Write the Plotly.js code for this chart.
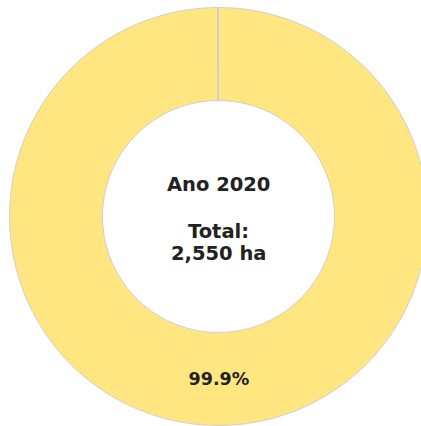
<!DOCTYPE html>
<html>
<head>
<meta charset="utf-8">
<script src="https://cdn.plot.ly/plotly-3.0.1.min.js"></script>
<style>
html, body { margin: 0; padding: 0; overflow: hidden; background: #fff; }
#chart { width: 437px; height: 433px; }
</style>
</head>
<body>
<div id="chart"></div>
<script>
// Data
const categories = ["Área principal", "Outros"];
const values = [2548, 2];
const sliceLabels = ["99.9%", ""];
const centerLines = ["Ano 2020", "Total:", "2,550 ha"];
const colors = ["#FFE680", "#C8C8C8"];

const trace = {
  type: "pie",
  labels: categories,
  values: values,
  hole: 0.555,
  sort: true,
  direction: "counterclockwise",
  text: sliceLabels,
  textinfo: "text",
  textposition: "inside",
  insidetextorientation: "horizontal",
  insidetextfont: { family: "DejaVu Sans", size: 17.5, color: "#222222", weight: "bold" },
  marker: { colors: colors, line: { color: "#cfcfcf", width: 1 } },
  domain: { x: [0, 1], y: [0.0173, 0.9827] },
  hoverinfo: "none",
  showlegend: false
};

const lineY = [0.575, 0.4665, 0.4157];
const annotations = centerLines.map((t, i) => ({
  text: "<b>" + t + "</b>",
  x: 0.5, y: lineY[i], xref: "paper", yref: "paper",
  xanchor: "center", yanchor: "middle",
  showarrow: false,
  font: { family: "DejaVu Sans", size: 19.5, color: "#222222" }
}));

const layout = {
  width: 437,
  height: 433,
  margin: { l: 0, r: 0, t: 0, b: 0, pad: 0 },
  paper_bgcolor: "#ffffff",
  plot_bgcolor: "#ffffff",
  showlegend: false,
  font: { family: "DejaVu Sans", color: "#222222" },
  annotations: annotations
};

Plotly.newPlot("chart", [trace], layout, { displayModeBar: false, staticPlot: true });
</script>
</body>
</html>
